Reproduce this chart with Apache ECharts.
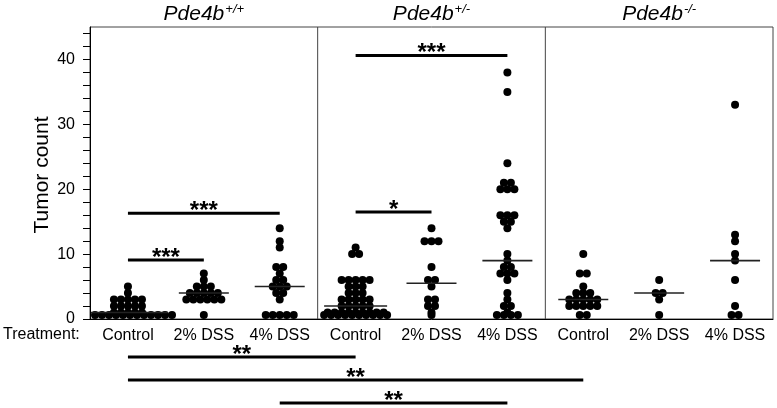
<!DOCTYPE html>
<html><head><meta charset="utf-8">
<script src="https://cdn.jsdelivr.net/npm/echarts@6/dist/echarts.min.js"></script>
<style>html,body{margin:0;padding:0;background:#fff}#c{width:777px;height:408px}</style>
</head><body><div id="c"></div>
<script>
// ---------- DATA ----------
const genotypeMain = ['Pde4b', 'Pde4b', 'Pde4b'];
const genotypeSup = ['+/+', '+/-', '-/-'];
const treatments = ['Control', '2% DSS', '4% DSS'];
const yTickLabels = [0, 10, 20, 30, 40];

const wtControl = [0,0,0,0,0,0,0,0,0,0,0,0,1,1,1,1,1,2,2,2,2,2,3,3,3,3,3,4,5];
const wt2DSS = [0,3,3,3,3,3,3,4,4,4,4,4,5,5,5,6,7];
const wt4DSS = [0,0,0,0,0,3,4,4,5,5,5,6,6,7,8,8,11,12,14];
const hetControl = [0,0,0,0,0,0,0,0,0,0,1,1,1,1,1,1,1,1,1,2,2,2,2,2,3,3,3,3,3,4,4,4,5,5,5,6,6,6,6,6,10,10,11];
const het2DSS = [0,1,2,2,3,3,5,6,6,8,12,12,12,14];
const het4DSS = [0,0,0,0,1,2,2,3,4,6,7,7,7,8,8,9,10,14,15,15,16,16,16,20,20,20,21,21,24,35,38];
const koControl = [0,0,2,2,2,2,2,3,3,3,3,3,4,4,4,5,7,7,10];
const ko2DSS = [0,3,4,4,6];
const ko4DSS = [0,0,2,6,9,10,12,13,33];

// significance annotations (category indices, y value in tumor count)
const sigFrom = [0, 0, 3, 3];
const sigTo = [2, 1, 5, 4];
const sigY = [16.3, 9.1, 40.6, 16.5];
const sigText = ['***', '***', '***', '*'];
// comparisons drawn under the axis
const lowFrom = [0, 0, 2];
const lowTo = [3, 6, 5];
const lowText = ['**', '**', '**'];

// ---------- CHART ----------
const FONT = '"Liberation Sans", Arial, Helvetica, sans-serif';
const allGroups = [wtControl, wt2DSS, wt4DSS, hetControl, het2DSS, het4DSS, koControl, ko2DSS, ko4DSS];
const catKeys = allGroups.map((_, i) => i + '|' + treatments[i % 3]);

const chart = echarts.init(document.getElementById('c'), null, {renderer: 'canvas'});
const base = {
  animation: false,
  grid: {left: 90, right: 4, top: 27, bottom: 89, show: true, borderColor: '#444', borderWidth: 1},
  xAxis: {
    type: 'category', data: catKeys, boundaryGap: true,
    axisLine: {lineStyle: {color: '#000', width: 1}},
    axisTick: {alignWithLabel: true, interval: 0, length: 7, lineStyle: {color: '#000'}},
    axisLabel: {interval: 0, formatter: v => v.split('|')[1], color: '#000', fontSize: 16, fontFamily: FONT, margin: 9}
  },
  yAxis: {
    type: 'value', min: 0, max: 45, interval: 2,
    splitLine: {show: false},
    axisLine: {show: true, lineStyle: {color: '#000'}},
    axisTick: {show: true, length: 7, lineStyle: {color: '#000'}},
    axisLabel: {formatter: v => yTickLabels.indexOf(v) >= 0 ? String(v) : '', color: '#000', fontSize: 16, fontFamily: FONT, margin: 15, showMaxLabel: false}
  },
  series: [{type: 'scatter', data: []}]
};
chart.setOption(base);

const SP = 7;        // horizontal spacing between dots (px)
const R = 4;         // dot radius
const NUDGE = 4;     // zero values sit on the axis
const px = (i, v) => chart.convertToPixel({gridIndex: 0}, [i, v]);
const band = px(1, 0)[0] - px(0, 0)[0];
const panelEdge = p => px(p * 3, 0)[0] - band / 2;

const dots = [], medians = [];
allGroups.forEach((vals, i) => {
  const c = px(i, 0)[0];
  const p = Math.floor(i / 3);
  const L = panelEdge(p), Rt = panelEdge(p + 1);
  const rows = {};
  vals.forEach(v => { (rows[v] = rows[v] || []).push(v); });
  let maxRow = 0;
  Object.keys(rows).forEach(k => {
    const v = Number(k), n = rows[k].length;
    maxRow = Math.max(maxRow, n);
    let start = c - (n - 1) * SP / 2, end = c + (n - 1) * SP / 2, shift = 0;
    if (start < L + R + 1) shift = L + R + 1 - start;
    else if (end > Rt - R - 1) shift = Rt - R - 1 - end;
    for (let j = 0; j < n; j++) {
      dots.push({value: [i, v], symbolOffset: [start + shift + j * SP - c, v === 0 ? -NUDGE : 0]});
    }
  });
  const s = vals.slice().sort((a, b) => a - b);
  const m = s.length % 2 ? s[(s.length - 1) / 2] : (s[s.length / 2 - 1] + s[s.length / 2]) / 2;
  const W = Math.max(50, (maxRow - 1) * SP);
  let sh = 0;
  if (c - W / 2 < L + 1) sh = L + 1 - (c - W / 2);
  medians.push({value: [i, m], symbolSize: [W, 1.6], symbolOffset: [sh, m === 0 ? -NUDGE : 0]});
});

const series = [
  {type: 'scatter', data: dots, symbol: 'circle', symbolSize: 2 * R, itemStyle: {color: '#000', opacity: 1}, z: 3, clip: false},
  {type: 'scatter', data: medians, symbol: 'rect', itemStyle: {color: '#222', opacity: 1}, z: 4, clip: false}
];
sigFrom.forEach((f, k) => {
  series.push({type: 'line', data: [[f, sigY[k]], [sigTo[k], sigY[k]]], symbol: 'none', silent: true,
    lineStyle: {color: '#000', width: 3}, z: 5});
});

const graphic = [];
// panel dividers
[1, 2].forEach(p => {
  const x = panelEdge(p);
  graphic.push({type: 'line', shape: {x1: x, y1: 27, x2: x, y2: px(0, 0)[1]}, style: {stroke: '#444', lineWidth: 1}, z: 1});
});
// titles
[0, 1, 2].forEach(p => {
  const x = (panelEdge(p) + panelEdge(p + 1)) / 2;
  graphic.push({type: 'text', x: x, y: 14, style: {
    text: '{a|' + genotypeMain[p] + '}{b|' + genotypeSup[p] + '}',
    align: 'center', verticalAlign: 'middle',
    rich: {a: {fontSize: 21, fontStyle: 'italic', fontFamily: FONT, fill: '#000'},
           b: {fontSize: 13, fontStyle: 'italic', fontFamily: FONT, fill: '#000', padding: [0, 0, 9, 1]}}
  }});
});
// y axis name
graphic.push({type: 'text', x: 42, y: 175, rotation: Math.PI / 2, style: {text: 'Tumor count', fontSize: 21, fontFamily: FONT, fill: '#000', align: 'center', verticalAlign: 'middle'}});
graphic.push({type: 'text', x: 3, y: 335, style: {text: 'Treatment:', fontSize: 16, fontFamily: FONT, fill: '#000', align: 'left', verticalAlign: 'middle'}});
// stars in plot
sigFrom.forEach((f, k) => {
  const a = px(f, sigY[k]), b = px(sigTo[k], sigY[k]);
  graphic.push({type: 'text', x: (a[0] + b[0]) / 2, y: a[1] - 2, z: 6, style: {text: sigText[k], fontSize: 24, fontWeight: 'bold', fontFamily: FONT, fill: '#000', align: 'center', verticalAlign: 'middle'}});
});
// comparisons below the axis
const lowY = [357, 380, 403];
lowFrom.forEach((f, k) => {
  const a = px(f, 0)[0], b = px(lowTo[k], 0)[0];
  graphic.push({type: 'line', shape: {x1: a, y1: lowY[k], x2: b, y2: lowY[k]}, style: {stroke: '#000', lineWidth: 3}});
  graphic.push({type: 'text', x: (a + b) / 2, y: lowY[k] - 2, style: {text: lowText[k], fontSize: 24, fontWeight: 'bold', fontFamily: FONT, fill: '#000', align: 'center', verticalAlign: 'middle'}});
});

chart.setOption({series: series, graphic: graphic});
</script></body></html>
